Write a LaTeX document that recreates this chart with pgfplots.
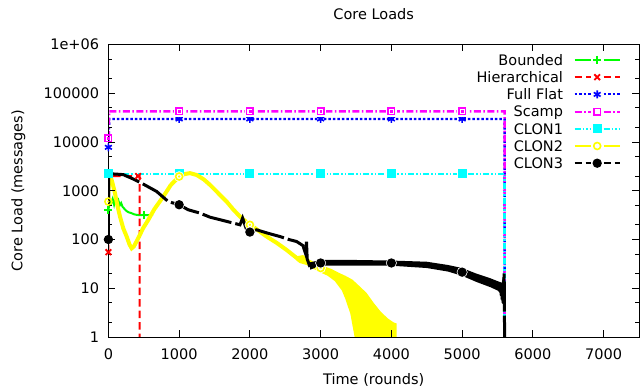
\documentclass[border=0pt]{standalone}
\usepackage{fontspec}
\setmainfont{DejaVu Sans}
\usepackage{pgfplots}
\pgfplotsset{compat=1.18}
\definecolor{gpgreen}{RGB}{0,255,0}
\definecolor{gpred}{RGB}{255,0,0}
\definecolor{gpblue}{RGB}{0,0,255}
\definecolor{gpmag}{RGB}{255,0,255}
\definecolor{gpcyan}{RGB}{0,255,255}
\definecolor{gpyellow}{RGB}{255,255,0}
\pgfplotsset{
  bnd/.style={color=gpgreen, solid, line width=2bp, mark=+, mark size=4bp, mark options={solid, line width=1.8bp}},
  hie/.style={color=gpred, dash pattern=on 7.5bp off 4bp, line width=2bp, mark=x, mark size=4bp, mark options={solid, line width=1.8bp}},
  ffl/.style={color=gpblue, dash pattern=on 2.5bp off 2bp, line width=2bp, mark=asterisk, mark size=4bp, mark options={solid, line width=1.6bp}},
  scp/.style={color=gpmag, dash pattern=on 7bp off 2.5bp on 1.5bp off 2.5bp, line width=2bp, mark=square, mark size=3.2bp, mark options={solid, line width=1.5bp}},
  cl1/.style={color=gpcyan, dash pattern=on 6bp off 2bp on 1.5bp off 2bp on 1.5bp off 2bp, line width=2bp, mark=square*, mark size=3.5bp, mark options={solid}},
  cl2/.style={color=gpyellow, solid, line width=2bp, mark=o, mark size=3.5bp, mark options={solid, line width=1.6bp}},
  cl3/.style={color=black, dash pattern=on 7bp off 4bp, line width=2bp, mark=*, mark size=3.6bp, mark options={solid}},
  legend image code/.code={%
    \draw[#1, mark=none] (0bp,0bp) -- (16bp,0bp) (29bp,0bp) -- (45bp,0bp);
    \draw[#1] plot coordinates {(22.5bp,0bp)};
  },
}
\begin{document}
\begin{tikzpicture}[font=\fontsize{14.5bp}{17bp}\selectfont]
\path[use as bounding box] (-108.4bp,-50bp) rectangle (531.6bp,337bp);
\begin{axis}[
  scale only axis, width=530.6bp, height=292.5bp,
  at={(0,0)}, anchor=south west,
  xmin=0, xmax=7500, ymin=1, ymax=1e6, ymode=log,
  xtick={0,1000,2000,3000,4000,5000,6000,7000},
  xticklabels={0,1000,2000,3000,4000,5000,6000,7000},
  ytick={1,10,100,1000,10000,100000,1000000},
  yticklabels={1,10,100,1000,10000,100000,1e+06},
  minor ytick={2,5,20,50,200,500,2000,5000,20000,50000,200000,500000},
  tick align=inside,
  major tick length=7bp, minor tick length=4bp,
  every tick/.style={black, line width=0.9bp},
  axis line style={line width=0.9bp},
  tick label style={font=\fontsize{14.5bp}{17bp}\selectfont},
  xticklabel style={anchor=base, inner sep=0pt, yshift=-22bp},
  yticklabel style={anchor=east, inner sep=0pt, xshift=-9.1bp},
  title={Core Loads},
  title style={at={(axis description cs:0.5,1)}, anchor=base, inner sep=0pt, yshift=19.5bp},
  xlabel={Time (rounds)},
  xlabel style={at={(axis description cs:0.5,0)}, anchor=base, inner sep=0pt, yshift=-47.3bp},
  ylabel={Core Load (messages)},
  ylabel style={at={(axis description cs:-0.1623,0.5)}, anchor=base, inner sep=0pt},
  legend style={draw=none, fill=none, at={(rel axis cs:1,1)}, anchor=north east,
    xshift=-18.3bp, yshift=-10.2bp, inner sep=0pt, outer sep=0pt,
    row sep=6.6bp, column sep=10.7bp,
    font=\fontsize{14.5bp}{17bp}\selectfont,
    nodes={inner sep=0pt, text height=10.6bp, text depth=0pt}},
  legend plot pos=right, legend cell align=right,
  axis on top,
]
\addlegendimage{bnd}\addlegendentry{Bounded}
\addlegendimage{hie}\addlegendentry{Hierarchical}
\addlegendimage{ffl}\addlegendentry{Full Flat}
\addlegendimage{scp}\addlegendentry{Scamp}
\addlegendimage{cl1}\addlegendentry{CLON1}
\addlegendimage{cl2}\addlegendentry{CLON2}
\addlegendimage{cl3}\addlegendentry{CLON3}

% Bounded
\addplot[bnd, mark=none, forget plot] coordinates {(0,400) (20,620) (40,560) (60,680) (80,520) (100,700) (120,560) (140,640) (160,500) (180,560) (200,470) (230,420) (260,380) (290,360) (320,350) (360,330) (400,320) (450,315) (500,320) (550,315) (630,320)};
\addplot[bnd, only marks, forget plot] coordinates {(0,400) (500,320)};
% Hierarchical
\addplot[hie, mark=none, forget plot] coordinates {(0,55) (5,2000) (440,2000) (440,1)};
\addplot[hie, only marks, forget plot] coordinates {(0,55) (420,2000)};
% Full Flat
\addplot[ffl, line width=2.4bp, mark=none, forget plot] coordinates {(0,7770) (12,29700) (5600,29700) (5600,1)};
\addplot[ffl, only marks, forget plot] coordinates {(0,7770) (1000,29700) (2000,29700) (3000,29700) (4000,29700) (5000,29700)};
% Scamp
\addplot[scp, line width=2.4bp, mark=none, forget plot] coordinates {(0,12000) (12,42600) (5600,42600) (5600,1)};
\addplot[only marks, mark=square*, mark size=5bp, white, forget plot] coordinates {(1000,42600) (2000,42600) (3000,42600) (4000,42600) (5000,42600)};
\addplot[scp, only marks, forget plot] coordinates {(0,12000) (1000,42600) (2000,42600) (3000,42600) (4000,42600) (5000,42600)};
\addplot[gpmag, only marks, mark=square*, mark size=0.9bp, forget plot] coordinates {(0,12000) (1000,42600) (2000,42600) (3000,42600) (4000,42600) (5000,42600)};
% CLON1
\addplot[cl1, line width=2.4bp, mark=none, forget plot] coordinates {(0,2230) (5600,2230) (5600,1)};
\addplot[only marks, mark=square*, mark size=5.2bp, white, forget plot] coordinates {(2000,2230) (3000,2230) (4000,2230) (5000,2230)};
\addplot[cl1, only marks, forget plot] coordinates {(0,2230) (1000,2230) (2000,2230) (3000,2230) (4000,2230) (5000,2230)};
% CLON2
\addplot[gpyellow, line width=4bp, forget plot] coordinates {(0,600) (3,2200) (30,2000) (60,1400) (93,890) (130,480) (164,295) (210,170) (258,115) (300,78) (329,66) (360,72) (423,107) (490,170) (564,253) (650,420) (776,760) (880,1300) (1000,1960) (1080,2200) (1153,2300) (1250,2100) (1350,1700) (1436,1320) (1550,900) (1671,600) (1760,420) (1860,295) (1950,230) (2010,200) (2100,160) (2237,115) (2380,85) (2519,61) (2660,42) (2700,40)};
\addplot[fill=gpyellow, draw=none, forget plot] coordinates {(2650,45) (2750,48) (2850,38) (2950,32) (3050,28) (3150,25) (3250,21) (3350,18) (3450,15) (3550,11) (3650,8) (3750,5) (3850,3.3) (3950,2.4) (4030,2) (4073,1.9) (4073,1) (3480,1) (3420,3) (3350,6) (3300,9) (3200,14) (3100,18) (3000,21) (2900,25) (2800,30) (2700,33) (2650,38)};
\addplot[only marks, mark=*, mark size=5bp, white, forget plot] coordinates {(1000,1960) (2000,200) (3000,26)};
\addplot[cl2, only marks, forget plot] coordinates {(0,600) (1000,1960) (2000,200) (3000,26)};
\addplot[gpyellow, only marks, mark=*, mark size=0.9bp, forget plot] coordinates {(0,600) (1000,1960) (2000,200) (3000,26)};
% CLON3
\addplot[black, line width=3bp, dash pattern=on 30bp off 4bp, forget plot] coordinates {(0,100) (3,2230) (100,2200) (211,2140) (352,1740) (500,1350) (682,967) (846,600) (998,516) (1129,407) (1294,348) (1436,287) (1600,250) (1750,220) (1860,200) (1897,275) (1954,158) (2010,142) (2095,158) (2250,135) (2425,115) (2550,100) (2660,91) (2750,75) (2790,50) (2800,90) (2810,40) (2850,27) (2900,30) (3000,33) (3500,33) (4000,33) (4500,30) (5000,21.4) (5156,17) (5345,13.7) (5450,12) (5539,10.5) (5562,5.8) (5580,9) (5595,20) (5600,1)};
\addplot[fill=black, draw=none, forget plot] coordinates {(2850,34) (3000,38) (3500,38) (4000,37) (4500,35) (4800,30) (5000,26) (5200,20) (5400,16) (5500,14) (5560,13) (5595,22) (5595,4.5) (5560,5) (5540,8) (5500,9) (5400,10.5) (5200,13.5) (5000,18) (4800,22) (4500,26) (4000,29) (3500,29) (3000,29) (2850,24)};
\addplot[only marks, mark=*, mark size=5.2bp, white, forget plot] coordinates {(1000,516) (2000,142) (3000,33) (4000,33) (5000,21.4)};
\addplot[cl3, only marks, forget plot] coordinates {(0,100) (1000,516) (2000,142) (3000,33) (4000,33) (5000,21.4)};
\end{axis}
\end{tikzpicture}
\end{document}
